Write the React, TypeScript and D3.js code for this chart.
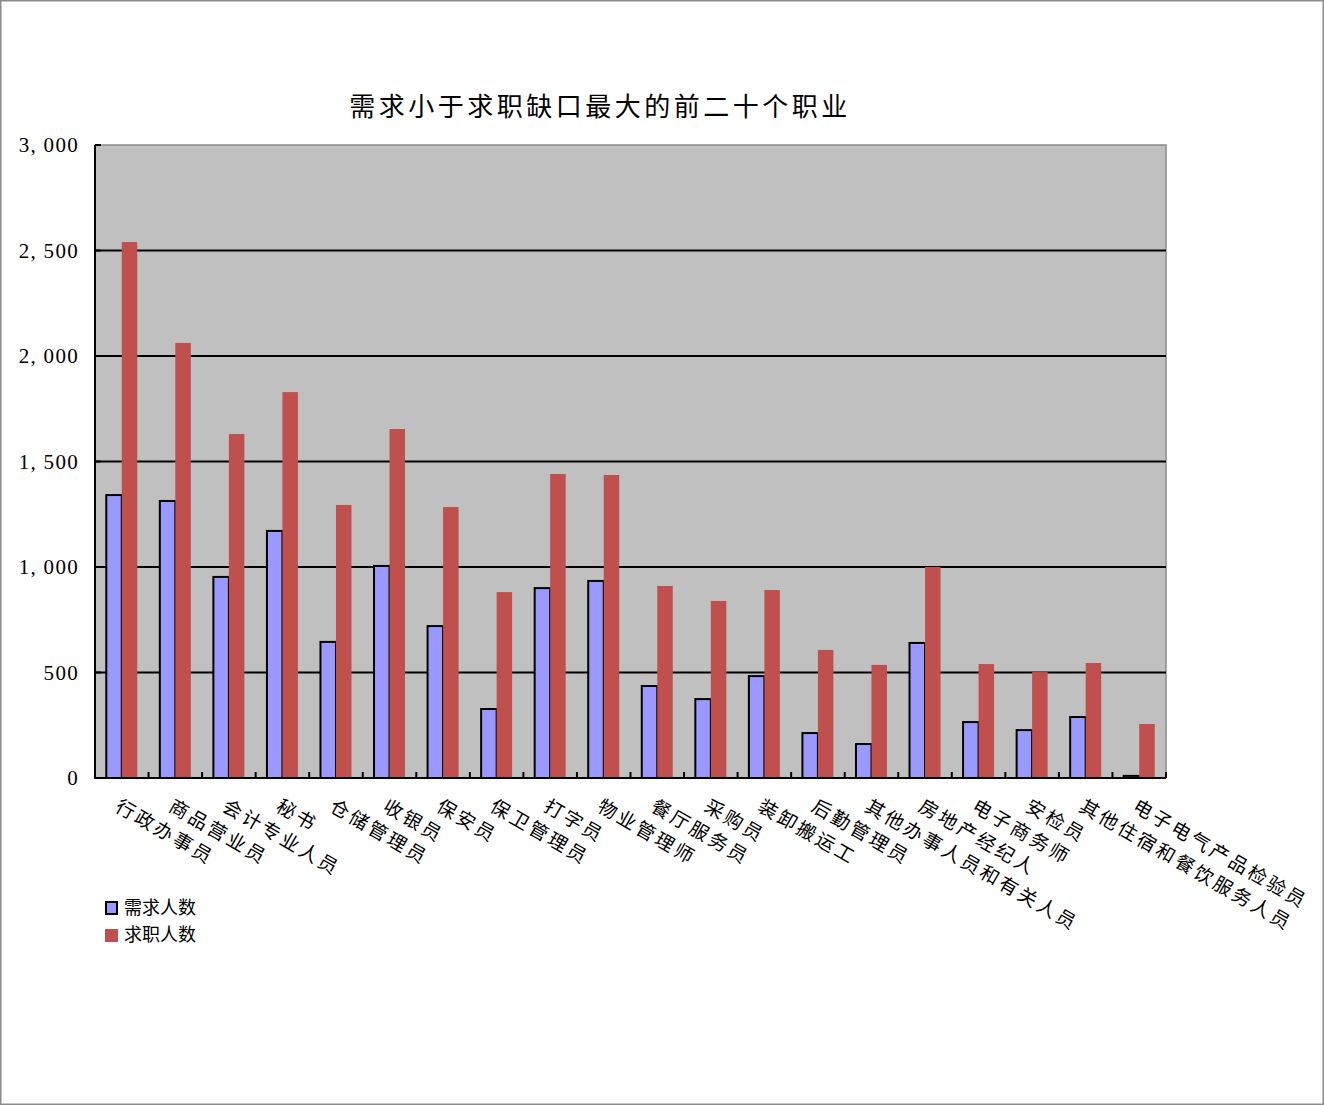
import React from "react";
import * as d3 from "d3";

const categories = [
  "行政办事员", "商品营业员", "会计专业人员", "秘书", "仓储管理员",
  "收银员", "保安员", "保卫管理员", "打字员", "物业管理师",
  "餐厅服务员", "采购员", "装卸搬运工", "后勤管理员", "其他办事人员和有关人员",
  "房地产经纪人", "电子商务师", "安检员", "其他住宿和餐饮服务人员", "电子电气产品检验员",
];
const demand = [1341, 1313, 953, 1171, 645, 1005, 720, 327, 900, 934, 436, 374, 483, 213, 161, 640, 265, 227, 289, 10];
const supply = [2540, 2062, 1630, 1829, 1294, 1654, 1284, 881, 1441, 1436, 910, 839, 891, 607, 536, 1000, 540, 502, 545, 256];
const yTicks = [0, 500, 1000, 1500, 2000, 2500, 3000];
const seriesNames = ["需求人数", "求职人数"];
const title = "需求小于求职缺口最大的前二十个职业";

const W = 1324, H = 1105;
const left = 95, right = 1166, top = 145, bottom = 778;
const CJK = "'Noto Sans CJK SC', sans-serif";

export default function App() {
  const x = d3.scaleBand<string>().domain(categories).range([left, right]).paddingInner(0).paddingOuter(0);
  const y = d3.scaleLinear().domain([0, 3000]).range([bottom, top]);
  const bw = x.bandwidth();
  const barW = 15.5;
  const off = (bw - 2 * barW) / 2;
  const fmt = (v: number) => (v >= 1000 ? d3.format(",")(v).replace(",", ", ") : String(v));
  return (
    <svg width={W} height={H} style={{ position: "absolute", left: 0, top: 0, background: "#fff" }}>
      <rect x={0.75} y={0.75} width={W - 1.5} height={H - 1.5} fill="#fff" stroke="#8c8c8c" strokeWidth={1.5} />
      <text x={600} y={116} textAnchor="middle" fontFamily={CJK} fontSize={26} letterSpacing={3.5} fill="#000">{title}</text>
      <rect x={left} y={top} width={right - left} height={bottom - top} fill="#c0c0c0" stroke="#8c8c8c" strokeWidth={1.5} />
      {yTicks.filter(t => t > 0 && t < 3000).map(t => (
        <line key={"g" + t} x1={left} x2={right} y1={y(t)} y2={y(t)} stroke="#000" strokeWidth={2} />
      ))}
      {yTicks.map(t => (
        <g key={"t" + t}>
          <line x1={left} x2={left + 6} y1={y(t)} y2={y(t)} stroke="#000" strokeWidth={2} />
          <text x={79} y={y(t)} dy="0.35em" textAnchor="end" fontFamily="'Liberation Serif', serif" fontSize={21} letterSpacing={1.3} fill="#000">{fmt(t)}</text>
        </g>
      ))}
      {categories.map((c, i) => (
        <g key={c}>
          <rect x={x(c)! + off} y={y(demand[i])} width={barW} height={bottom - y(demand[i])} fill="#9999ff" stroke="#000" strokeWidth={2} />
          <rect x={x(c)! + off + barW} y={y(supply[i])} width={barW} height={bottom - y(supply[i])} fill="#c0504d" />
        </g>
      ))}
      {categories.map((c, i) => (
        <line key={"xt" + i} x1={x(c)! + bw} x2={x(c)! + bw} y1={bottom} y2={bottom - 6} stroke="#000" strokeWidth={2} />
      ))}
      <line x1={left} x2={left} y1={top} y2={bottom + 1} stroke="#000" strokeWidth={2} />
      <line x1={left - 1} x2={right} y1={bottom} y2={bottom} stroke="#000" strokeWidth={2} />
      {categories.map(c => {
        const cx = x(c)! + bw / 2 + 1;
        const cy = 795;
        return (
          <text key={"l" + c} x={cx} y={cy} transform={`rotate(30 ${cx} ${cy})`} dominantBaseline="hanging"
            fontFamily={CJK} fontSize={19} letterSpacing={3} fill="#000">{c}</text>
        );
      })}
      <rect x={106} y={902} width={11} height={12} fill="#9999ff" stroke="#000" strokeWidth={2} />
      <text x={124} y={908} dy="0.35em" fontFamily={CJK} fontSize={18} fill="#000">{seriesNames[0]}</text>
      <rect x={105} y={929} width={13} height={13} fill="#c0504d" />
      <text x={124} y={935} dy="0.35em" fontFamily={CJK} fontSize={18} fill="#000">{seriesNames[1]}</text>
    </svg>
  );
}
